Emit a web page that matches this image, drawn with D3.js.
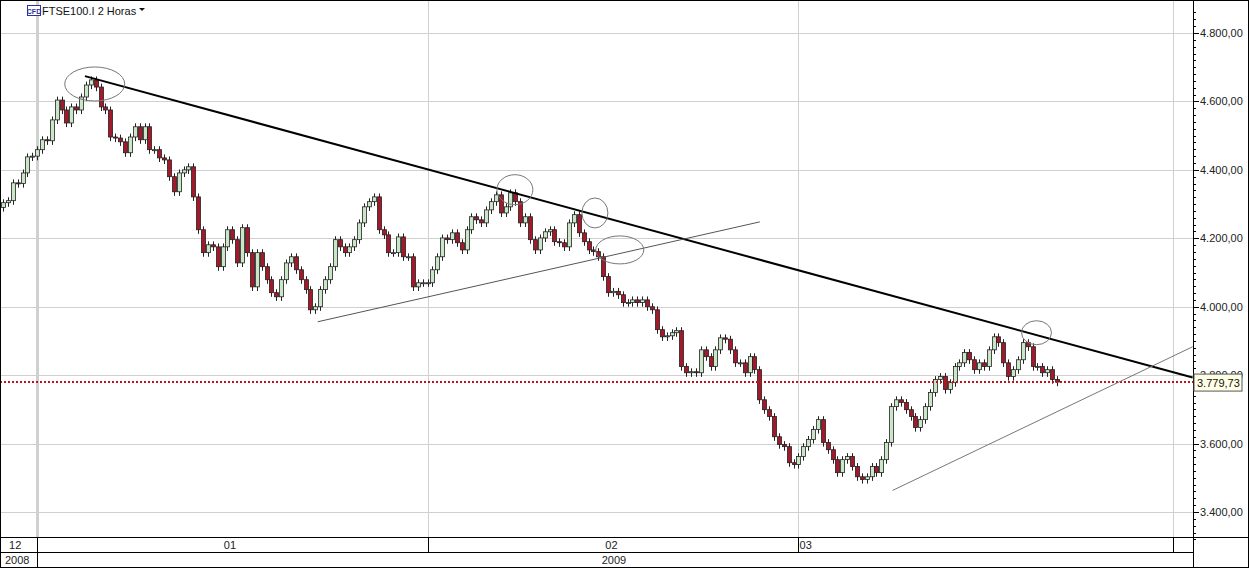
<!DOCTYPE html>
<html><head><meta charset="utf-8">
<script src="https://cdn.jsdelivr.net/npm/d3@7"></script>
<style>body{margin:0;background:#fff}svg{display:block;font-family:Arial,"Liberation Sans",sans-serif}</style>
</head><body>
<script>
const title = "FTSE100.I 2 Horas";
const closes = [4304,4310,4362,4360,4391,4438,4440,4459,4488,4485,4546,4604,4575,4537,4584,4575,4613,4648,4663,4642,4584,4575,4496,4493,4482,4450,4496,4526,4488,4526,4459,4459,4435,4429,4380,4336,4391,4400,4409,4321,4225,4158,4181,4175,4117,4175,4225,4196,4128,4231,4158,4058,4158,4117,4079,4041,4029,4079,4128,4146,4108,4079,4050,3991,4000,4050,4079,4117,4196,4175,4158,4175,4196,4245,4292,4307,4321,
4225,4210,4158,4158,4204,4146,4146,4058,4070,4070,4070,4108,4146,4201,4196,4216,4187,4166,4225,4263,4254,4245,4283,4307,4327,4274,4292,4333,4307,4245,4263,4196,4166,4201,4219,4225,4190,4187,4175,4245,4269,4216,4190,4166,4161,4146,4088,4041,4045,4035,4012,4012,4020,4012,4020,4000,3991,3933,3912,3915,3924,3930,3825,3807,3810,3807,3874,3854,3825,3874,3909,3905,3874,3836,3836,3807,3854,3816,
3728,3699,3679,3620,3597,3591,3544,3539,3562,3591,3612,3641,3670,3603,3582,3553,3515,3553,3562,3533,3503,3495,3503,3533,3515,3553,3603,3708,3728,3720,3699,3679,3647,3670,3708,3749,3787,3796,3758,3778,3825,3836,3866,3845,3816,3836,3825,3874,3912,3895,3836,3796,3816,3845,3895,3883,3825,3825,3807,3816,3787,3779.73];
const firstOpen = 4290;
const priceTicks = [3400,3600,3800,4000,4200,4400,4600,4800];
const monthBreaks = [7.0, 87.1, 163.0, 239.7];
const monthLabels = [{t:"12",i:2.5},{t:"01",i:46.5},{t:"02",i:124.7},{t:"03",i:164.5}];
const yearLabels = [{t:"2008",i:2.9},{t:"2009",i:125.2}];
const trendMain = [[16.8,4674],[243.8,3793]];
const trendMid = [[64.5,3956],[155.1,4248]];
const trendLow = [[182.3,3463],[243.8,3883]];
const ellipses = [[18.8,4651,30,17],[104.9,4342,18,15],[121.3,4274,13,15],[126.4,4166,24,14],[211.8,3924,15,12]];
const lastPrice = 3779.73;

const W=1249,H=568, L=0, R=1193, T=0, B=537;
const svg=d3.select("body").append("svg").attr("width",W).attr("height",H);
const x=d3.scaleLinear().domain([0,closes.length-1]).range([3,1057]);
const y=d3.scaleLinear().domain([3400,4800]).range([512,33]);
const loc=d3.formatLocale({decimal:",",thousands:".",grouping:[3],currency:["",""]});
const fmt=loc.format(",.2f");

svg.selectAll(".hg").data(priceTicks).join("line").attr("x1",L).attr("x2",R).attr("y1",d=>Math.round(y(d))+.5).attr("y2",d=>Math.round(y(d))+.5).attr("stroke","#d0d0d0");
svg.selectAll(".vg").data(monthBreaks).join("line").attr("x1",d=>Math.round(x(d))+.5).attr("x2",d=>Math.round(x(d))+.5).attr("y1",0).attr("y2",B).attr("stroke","#d0d0d0").attr("stroke-width",(d,i)=>i==0?3:1);

const data=closes.map((c,i)=>{const o=i?closes[i-1]:firstOpen;return {i,o,c};});
const g=svg.append("g");
g.selectAll("line").data(data).join("line").attr("x1",d=>Math.round(x(d.i))+.5).attr("x2",d=>Math.round(x(d.i))+.5)
 .attr("y1",d=>y(Math.max(d.o,d.c)+10)).attr("y2",d=>y(Math.min(d.o,d.c)-12)).attr("stroke","#222");
g.selectAll("rect").data(data).join("rect").attr("x",d=>Math.round(x(d.i))-1.5).attr("width",4)
 .attr("y",d=>y(Math.max(d.o,d.c))).attr("height",d=>Math.max(1,Math.abs(y(d.o)-y(d.c))))
 .attr("fill",d=>d.c>=d.o?"#c9e6c6":"#a3192a").attr("stroke","#222").attr("stroke-width",0.8);

svg.append("line").attr("x1",0).attr("x2",R).attr("y1",y(lastPrice)).attr("y2",y(lastPrice)).attr("stroke","#c0101a").attr("stroke-width",2).attr("stroke-dasharray","2,2");

const ln=d3.line().x(d=>x(d[0])).y(d=>y(d[1]));
svg.append("path").attr("d",ln(trendMain)).attr("stroke","#000").attr("stroke-width",2).attr("fill","none");
svg.append("path").attr("d",ln(trendMid)).attr("stroke","#555").attr("stroke-width",1).attr("fill","none");
svg.append("path").attr("d",ln(trendLow)).attr("stroke","#777").attr("stroke-width",1).attr("fill","none");
svg.selectAll(".el").data(ellipses).join("ellipse").attr("cx",d=>x(d[0])).attr("cy",d=>y(d[1])).attr("rx",d=>d[2]).attr("ry",d=>d[3]).attr("fill","none").attr("stroke","#777").attr("stroke-width",1);

svg.append("rect").attr("x",R).attr("y",0).attr("width",W-R).attr("height",H).attr("fill","#fff");
svg.append("line").attr("x1",R+.5).attr("x2",R+.5).attr("y1",0).attr("y2",H).attr("stroke","#000");
const minor=d3.range(3320,4880,20);
svg.selectAll(".mt").data(minor).join("line").attr("x1",R).attr("x2",d=>R+(d%200==0?6:3)).attr("y1",d=>Math.round(y(d))+.5).attr("y2",d=>Math.round(y(d))+.5).attr("stroke","#000");
svg.selectAll(".tl").data(priceTicks).join("text").attr("x",R+7).attr("y",d=>y(d)+4).attr("font-size",11).attr("fill","#222").text(d=>fmt(d));
svg.append("rect").attr("x",R+1).attr("y",y(lastPrice)-8).attr("width",48).attr("height",17).attr("fill","#ffffe6").attr("stroke","#555");
svg.append("text").attr("x",R+4).attr("y",y(lastPrice)+5).attr("font-size",11).attr("fill","#111").text(fmt(lastPrice));

svg.append("rect").attr("x",0).attr("y",B).attr("width",R).attr("height",H-B).attr("fill","#fff");
svg.append("line").attr("x1",0).attr("x2",W).attr("y1",B+.5).attr("y2",B+.5).attr("stroke","#000");
svg.append("line").attr("x1",0).attr("x2",R).attr("y1",552.5).attr("y2",552.5).attr("stroke","#000");
svg.selectAll(".mb").data(monthBreaks).join("line").attr("x1",d=>Math.round(x(d))+.5).attr("x2",d=>Math.round(x(d))+.5).attr("y1",B).attr("y2",552).attr("stroke","#000");
svg.append("line").attr("x1",Math.round(x(monthBreaks[0]))+.5).attr("x2",Math.round(x(monthBreaks[0]))+.5).attr("y1",552).attr("y2",H).attr("stroke","#000");
svg.selectAll(".ml").data(monthLabels).join("text").attr("x",d=>x(d.i)).attr("y",549).attr("font-size",11).attr("text-anchor","middle").attr("fill","#222").text(d=>d.t);
svg.selectAll(".yl").data(yearLabels).join("text").attr("x",d=>x(d.i)).attr("y",564).attr("font-size",11).attr("text-anchor","middle").attr("fill","#222").text(d=>d.t);

svg.append("rect").attr("x",27.5).attr("y",5.5).attr("width",13).attr("height",10).attr("fill","#fff").attr("stroke","#3030a0");
svg.append("text").attr("x",34).attr("y",13.5).attr("font-size",7).attr("font-weight","bold").attr("text-anchor","middle").attr("fill","#3030a0").text("CFD");
svg.append("text").attr("x",42).attr("y",14.5).attr("font-size",11).attr("fill","#111").text(title);
svg.append("path").attr("d","M139,8 L145,8 L142,11 Z").attr("fill","#111");

svg.append("rect").attr("x",.5).attr("y",.5).attr("width",W-1).attr("height",H-1).attr("fill","none").attr("stroke","#000");
</script>
</body></html>
